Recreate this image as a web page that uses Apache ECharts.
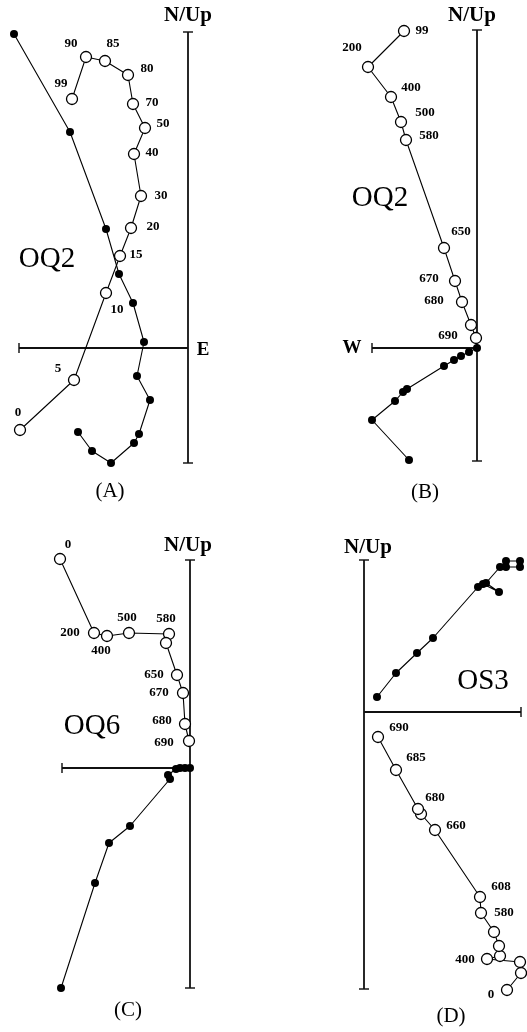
<!DOCTYPE html>
<html><head><meta charset="utf-8">
<script src="https://cdn.jsdelivr.net/npm/echarts@6/dist/echarts.min.js"></script>
<style>html,body{margin:0;padding:0;background:#fff}#c{width:527px;height:1032px}</style>
</head><body><div id="c"></div>
<script>
// ---------- DATA (East/West, North/Up components) ----------
// Panel A (OQ2) - open circles: vertical projection, demag steps
const aOpenE = [-168,-114,-82,-68,-57,-47,-54,-43,-55,-60,-83,-102,-116];
const aOpenN = [-82,-32,55,92,120,152,194,220,244,273,287,291,249];
const aOpenLbl = ['0','5','10','15','20','30','40','50','70','80','85','90','99'];
// Panel A - filled circles
const aFillE = [-174,-118,-82,-69,-55,-44,-51,-38,-49,-54,-77,-96,-110];
const aFillN = [314,216,119,74,45,6,-28,-52,-86,-95,-115,-103,-84];

// Panel B (OQ2)
const bOpenE = [-73,-109,-86,-76,-71,-33,-22,-15,-6,-1];
const bOpenN = [317,281,251,226,208,100,67,46,23,10];
const bOpenLbl = ['99','200','400','500','580','650','670','680','','690'];
const bFillE = [0,-8,-16,-23,-33,-70,-74,-82,-105,-68];
const bFillN = [0,-4,-8,-12,-18,-41,-44,-53,-72,-112];

// Panel C (OQ6)
const cOpenE = [-130,-96,-83,-61,-21,-24,-13,-7,-5,-1];
const cOpenN = [209,135,132,135,134,125,93,75,44,27];
const cOpenLbl = ['0','200','400','500','580','','650','670','680','690'];
const cFillE = [0,-5,-10,-14,-22,-20,-60,-81,-95,-129];
const cFillN = [0,0,0,-1,-7,-11,-58,-75,-115,-220];

// Panel D (OS3)
const dOpenE = [143,157,156,123,136,135,130,117,116,71,57,54,32,14];
const dOpenN = [-278,-261,-250,-247,-244,-234,-220,-201,-185,-118,-102,-97,-58,-25];
const dOpenLbl = ['0','','','400','','','','580','608','660','','680','685','690'];
const dFillE = [13,32,53,69,114,119,135,122,136,142,156,156,142];
const dFillN = [15,39,59,74,125,128,120,129,145,151,151,145,145];

// ---------- LAYOUT (not data) ----------
const W = 527, H = 1032;
const aOff = [[-2,-17],[-16,-11],[11,17],[16,-1],[22,-1],[20,0],[18,-1],[18,-4],[19,-1],[19,-6],[8,-17],[-15,-13],[-11,-15]];
const bOff = [[18,0],[-16,-19],[20,-9],[24,-9],[23,-4],[17,-16],[-26,-2],[-28,-1],[0,0],[-28,-2]];
const cOff = [[8,-14],[-24,0],[-6,15],[-2,-15],[-3,-15],[0,0],[-23,0],[-24,0],[-23,-3],[-25,2]];
const dOff = [[-16,5],[0,0],[0,0],[-22,1],[0,0],[0,0],[0,0],[23,0],[21,-10],[21,-4],[0,0],[17,-11],[20,-12],[21,-9]];

const panels = [
  {origin:[188,348], v:[316,-115], h:[-169,0], hCap:-169,
   open:[aOpenE,aOpenN,aOpenLbl,aOff], fill:[aFillE,aFillN]},
  {origin:[477,348], v:[318,-113], h:[-105,0], hCap:-105,
   open:[bOpenE,bOpenN,bOpenLbl,bOff], fill:[bFillE,bFillN]},
  {origin:[190,768], v:[208,-220], h:[-128,0], hCap:-128,
   open:[cOpenE,cOpenN,cOpenLbl,cOff], fill:[cFillE,cFillN]},
  {origin:[364,712], v:[152,-277], h:[0,157], hCap:157,
   open:[dOpenE,dOpenN,dOpenLbl,dOff], fill:[dFillE,dFillN]}
];

const SERIF = '"Liberation Serif","DejaVu Serif",serif';
const grid=[], xAxis=[], yAxis=[], series=[];
panels.forEach((p,i)=>{
  const [ox,oy] = p.origin;
  grid.push({left:0, top:0, width:W, height:H});
  xAxis.push({gridIndex:i, type:'value', min:-ox, max:W-ox, show:false});
  yAxis.push({gridIndex:i, type:'value', min:-(H-oy), max:oy, show:false});
  const ax = {xAxisIndex:i, yAxisIndex:i, silent:true, animation:false};
  // axes
  series.push(Object.assign({type:'line', data:[[0,p.v[0]],[0,p.v[1]]], symbol:'none',
    lineStyle:{color:'#111', width:1.8}, z:1}, ax));
  series.push(Object.assign({type:'line', data:[[p.h[0],0],[p.h[1],0]], symbol:'none',
    lineStyle:{color:'#111', width:1.8}, z:1}, ax));
  series.push(Object.assign({type:'scatter', data:[[0,p.v[0]],[0,p.v[1]]], symbol:'rect',
    symbolSize:[10,1.8], itemStyle:{color:'#111'}, z:1}, ax));
  series.push(Object.assign({type:'scatter', data:[[p.hCap,0]], symbol:'rect',
    symbolSize:[1.8,10], itemStyle:{color:'#111'}, z:1}, ax));
  // filled (horizontal projection)
  const [fe,fn] = p.fill;
  series.push(Object.assign({type:'line', data:fe.map((e,k)=>[e,fn[k]]), symbol:'circle',
    symbolSize:8, showAllSymbol:true, itemStyle:{color:'#000'},
    lineStyle:{color:'#000', width:1.1}, z:2}, ax));
  // open (vertical projection) with step labels
  const [oe,on,ol,off] = p.open;
  series.push(Object.assign({type:'line', symbol:'circle', symbolSize:11, showAllSymbol:true,
    itemStyle:{color:'#fff', borderColor:'#000', borderWidth:1.3},
    lineStyle:{color:'#000', width:1.1}, z:3,
    label:{show:true, position:'inside', fontFamily:SERIF, fontWeight:'bold', fontSize:13, color:'#000'},
    data:oe.map((e,k)=>({value:[e,on[k]], label:{show:ol[k]!=='', formatter:ol[k], offset:off[k]}}))}, ax));
});

function txt(t,x,y,size,bold){
  return {type:'text', x:x, y:y, z:10, style:{text:t, align:'center', verticalAlign:'middle',
    font:(bold?'bold ':'')+size+'px '+SERIF, fill:'#000'}};
}
const graphic = [
  txt('N/Up',188,16,21,true), txt('N/Up',472,16,21,true),
  txt('N/Up',188,546,21,true), txt('N/Up',368,548,21,true),
  txt('E',203,350,19,true), txt('W',352,348,19,true),
  txt('OQ2',47,259,29,false), txt('OQ2',380,198,29,false),
  txt('OQ6',92,726,29,false), txt('OS3',483,681,29,false),
  txt('(A)',110,491,21,false), txt('(B)',425,492,21,false),
  txt('(C)',128,1010,21,false), txt('(D)',451,1016,21,false)
];

const chart = echarts.init(document.getElementById('c'), null, {renderer:'canvas'});
chart.setOption({animation:false, backgroundColor:'#fff', grid, xAxis, yAxis, series, graphic});
</script></body></html>
